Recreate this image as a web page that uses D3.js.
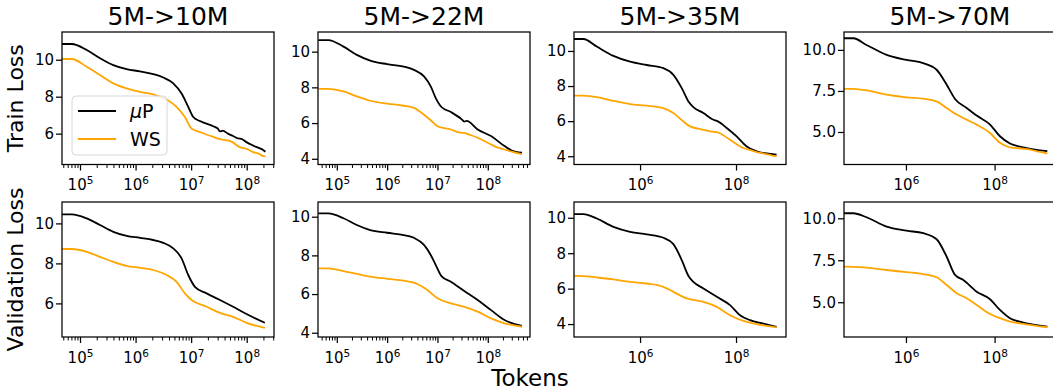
<!DOCTYPE html>
<html>
<head>
<meta charset="utf-8">
<script src="https://cdn.jsdelivr.net/npm/d3@7"></script>
<style>
body { margin: 0; background: #fff; }
svg text { font-family: "DejaVu Sans", sans-serif; fill: #000; }
</style>
</head>
<body>
<div id="graphic"></div>
<script>
// [tokens, loss]
var trainMuP10 = [[4.7e4,10.85],[7.1e4,10.85],[1.32e5,10.53],[2.29e5,10.08],[3.97e5,9.71],[6.9e5,9.49],[1.2e6,9.37],[2.08e6,9.22],[3.15e6,9.04],[4.77e6,8.72],[6.73e6,8.17],[8.87e6,7.45],[1.09e7,6.90],[1.44e7,6.68],[2.5e7,6.40],[3.0e7,6.28],[3.3e7,6.12],[3.7e7,6.16],[4.6e7,6.0],[5.7e7,5.87],[7.0e7,5.74],[8.0e7,5.72],[9.9e7,5.54],[1.3e8,5.36],[1.6e8,5.24],[1.98e8,5.12],[2.17e8,5.02]];
var trainWS10 = [[4.7e4,10.04],[7.1e4,10.04],[1.32e5,9.62],[2.29e5,9.17],[3.97e5,8.72],[6.9e5,8.45],[1.2e6,8.26],[2.08e6,8.12],[3.62e6,7.85],[5.47e6,7.45],[7.73e6,6.90],[1.02e7,6.27],[1.44e7,6.09],[2.5e7,5.82],[3.3e7,5.70],[4.35e7,5.64],[5.2e7,5.58],[7.5e7,5.27],[1.0e8,5.18],[1.31e8,5.0],[1.7e8,4.90],[1.9e8,4.80],[2.17e8,4.77]];
var trainMuP22 = [[4.3e4,10.65],[6.8e4,10.65],[1.36e5,10.28],[2.5e5,9.82],[4.6e5,9.50],[1.0e6,9.30],[2.15e6,9.16],[3.41e6,8.98],[5.4e6,8.61],[7.35e6,8.05],[9.25e6,7.40],[1.2e7,6.90],[1.85e7,6.62],[3.0e7,6.22],[3.41e7,6.08],[3.8e7,6.12],[6.3e7,5.64],[1.16e8,5.27],[2.15e8,4.71],[2.92e8,4.48],[4.78e8,4.34]];
var trainWS22 = [[4.3e4,7.92],[6.8e4,7.92],[1.36e5,7.77],[2.5e5,7.49],[4.6e5,7.25],[1.0e6,7.09],[2.15e6,6.97],[3.41e6,6.85],[5.4e6,6.47],[7.35e6,6.16],[1.0e7,5.82],[1.85e7,5.64],[2.8e7,5.46],[3.41e7,5.45],[4.0e7,5.38],[6.3e7,5.18],[1.16e8,4.80],[1.6e8,4.62],[2.15e8,4.52],[3.0e8,4.40],[4.78e8,4.25]];
var trainMuP35 = [[4.2e4,10.68],[6.6e4,10.68],[1.25e5,10.25],[2.78e5,9.72],[6.2e5,9.39],[1.38e6,9.20],[3.06e6,9.02],[4.95e6,8.64],[7.4e6,7.88],[1.02e7,7.12],[1.29e7,6.80],[2.09e7,6.46],[3.37e7,6.08],[4.0e7,6.02],[6.4e7,5.61],[1.03e8,5.13],[1.67e8,4.56],[2.7e8,4.28],[7.0e8,4.09]];
var trainWS35 = [[4.2e4,7.46],[6.6e4,7.45],[1.25e5,7.37],[2.78e5,7.16],[6.2e5,6.97],[1.38e6,6.88],[3.06e6,6.74],[4.95e6,6.46],[8.0e6,5.98],[1.1e7,5.70],[2.09e7,5.51],[3.1e7,5.40],[3.96e7,5.38],[7.5e7,4.94],[1.42e8,4.47],[2.0e8,4.35],[2.7e8,4.24],[4.0e8,4.14],[5.5e8,4.05],[7.0e8,4.0]];
var trainMuP70 = [[4.0e4,10.71],[6.5e4,10.71],[1.29e5,10.30],[3.66e5,9.70],[1.03e6,9.39],[2.46e6,9.19],[4.92e6,8.79],[8.3e6,7.88],[1.28e7,7.01],[2.34e7,6.46],[3.94e7,6.0],[7.9e7,5.45],[1.32e8,4.74],[2.22e8,4.30],[4.45e8,4.07],[1.55e9,3.83]];
var trainWS70 = [[4.0e4,7.63],[6.5e4,7.62],[1.29e5,7.53],[3.66e5,7.27],[1.03e6,7.11],[2.46e6,7.03],[4.92e6,6.86],[8.3e6,6.46],[1.39e7,6.06],[2.34e7,5.75],[3.94e7,5.45],[7.9e7,4.94],[1.32e8,4.34],[2.22e8,4.07],[4.45e8,3.98],[7.0e8,3.90],[1.0e9,3.80],[1.55e9,3.69]];

var valMuP10 = [[4.7e4,10.45],[7.1e4,10.45],[1.32e5,10.25],[2.29e5,9.92],[3.97e5,9.58],[6.9e5,9.38],[1.2e6,9.28],[2.08e6,9.17],[3.15e6,9.03],[4.77e6,8.75],[6.73e6,8.25],[8.87e6,7.42],[1.17e7,6.83],[1.9e7,6.50],[3.3e7,6.17],[5.7e7,5.83],[9.9e7,5.47],[2.12e8,5.03]];
var valWS10 = [[4.7e4,8.72],[7.1e4,8.72],[1.32e5,8.58],[2.29e5,8.33],[3.97e5,8.08],[6.9e5,7.88],[1.2e6,7.78],[2.08e6,7.67],[3.62e6,7.42],[5.47e6,7.08],[7.73e6,6.50],[1.02e7,6.17],[1.9e7,5.83],[3.3e7,5.53],[5.7e7,5.33],[9.9e7,5.03],[2.12e8,4.78]];
var valMuP22 = [[4.3e4,10.17],[6.8e4,10.17],[1.36e5,9.92],[2.5e5,9.57],[4.6e5,9.31],[1.0e6,9.17],[2.15e6,9.05],[3.41e6,8.91],[5.4e6,8.54],[7.35e6,8.02],[9.25e6,7.50],[1.2e7,6.93],[1.85e7,6.64],[3.41e7,6.16],[6.3e7,5.69],[1.16e8,5.17],[2.15e8,4.66],[4.78e8,4.35]];
var valWS22 = [[4.3e4,7.33],[6.8e4,7.33],[1.36e5,7.19],[2.5e5,7.04],[4.6e5,6.90],[1.0e6,6.79],[2.15e6,6.69],[3.97e6,6.52],[6.3e6,6.21],[1.0e7,5.78],[1.85e7,5.52],[3.41e7,5.34],[6.3e7,5.09],[1.16e8,4.74],[2.15e8,4.49],[4.78e8,4.31]];
var valMuP35 = [[4.2e4,10.21],[6.6e4,10.21],[1.25e5,9.96],[2.78e5,9.49],[6.2e5,9.21],[1.38e6,9.06],[3.06e6,8.87],[4.95e6,8.51],[7.4e6,7.61],[1.02e7,6.71],[1.29e7,6.38],[2.09e7,6.01],[3.96e7,5.54],[7.5e7,5.07],[1.21e8,4.50],[1.96e8,4.22],[3.71e8,4.03],[7.0e8,3.84]];
var valWS35 = [[4.2e4,6.72],[6.6e4,6.71],[1.25e5,6.63],[2.78e5,6.52],[6.2e5,6.38],[1.38e6,6.29],[3.06e6,6.10],[4.95e6,5.82],[9.4e6,5.45],[2.09e7,5.25],[3.96e7,4.97],[7.5e7,4.50],[1.42e8,4.18],[2.7e8,4.0],[7.0e8,3.81]];
var valMuP70 = [[4.0e4,10.30],[6.5e4,10.30],[1.29e5,10.06],[3.66e5,9.50],[1.03e6,9.26],[2.46e6,9.11],[4.92e6,8.75],[8.3e6,7.71],[1.28e7,6.63],[1.97e7,6.33],[3.94e7,5.63],[7.9e7,5.18],[1.32e8,4.54],[2.22e8,4.05],[4.45e8,3.79],[1.55e9,3.55]];
var valWS70 = [[4.0e4,7.12],[6.5e4,7.11],[1.29e5,7.06],[3.66e5,6.92],[1.03e6,6.79],[2.46e6,6.68],[4.92e6,6.49],[8.3e6,6.03],[1.39e7,5.54],[2.34e7,5.24],[3.94e7,4.84],[7.9e7,4.30],[1.32e8,4.05],[2.22e8,3.85],[4.45e8,3.71],[1.55e9,3.51]];

var titles = ["5M->10M", "5M->22M", "5M->35M", "5M->70M"];
var rowLabels = ["Train Loss", "Validation Loss"];
var seriesNames = ["\u03bcP", "WS"];
var colors = ["#000000", "#ffa500"];

var xDomains = [[4.74e4, 3.1e8], [4.23e4, 6.9e8], [4.2e4, 1.1e9], [4.0e4, 2.43e9]];
var xMajor = [[1e5, 1e6, 1e7, 1e8], [1e5, 1e6, 1e7, 1e8], [1e6, 1e8], [1e6, 1e8]];
var xMinorOn = [true, true, false, false];

var yDomainsTrain = [[4.33, 11.5], [3.68, 11.1], [3.53, 11.08], [3.02, 11.09]];
var yDomainsVal = [[4.32, 11.07], [3.78, 10.76], [3.27, 10.89], [2.93, 10.97]];
var yTicksTrain = [[6, 8, 10], [4, 6, 8, 10], [4, 6, 8, 10], [5, 7.5, 10]];
var yTicksVal = [[6, 8, 10], [4, 6, 8, 10], [4, 6, 8, 10], [5, 7.5, 10]];

var trainSeries = [[trainMuP10, trainWS10], [trainMuP22, trainWS22], [trainMuP35, trainWS35], [trainMuP70, trainWS70]];
var valSeries = [[valMuP10, valWS10], [valMuP22, valWS22], [valMuP35, valWS35], [valMuP70, valWS70]];

// layout
var width = 1053, height = 391;
var colLeft = [62, 318, 574, 844];
var panelW = 212;
var rowTop = [32, 202];
var rowH = [132.5, 135];

var svg = d3.select("#graphic").append("svg")
  .attr("width", width)
  .attr("height", height);

function supLabel(sel) {
  sel.each(function(d) {
    var t = d3.select(this);
    var e = Math.round(Math.log10(d));
    t.text(null);
    t.append("tspan").text("10");
    t.append("tspan").attr("dy", "-6").attr("font-size", "10.5px").text(e);
  });
}

function drawPanel(r, c) {
  var x0 = colLeft[c], y0 = rowTop[r], w = panelW, h = rowH[r];
  var yDom = r == 0 ? yDomainsTrain[c] : yDomainsVal[c];
  var yT = r == 0 ? yTicksTrain[c] : yTicksVal[c];
  var series = r == 0 ? trainSeries[c] : valSeries[c];

  var x = d3.scaleLog().domain(xDomains[c]).range([0, w]);
  var y = d3.scaleLinear().domain(yDom).range([h, 0]);

  var g = svg.append("g").attr("transform", "translate(" + x0 + "," + y0 + ")");

  var clipId = "clip" + r + c;
  g.append("clipPath").attr("id", clipId)
    .append("rect").attr("width", w).attr("height", h);

  var line = d3.line()
    .x(function(d) { return x(d[0]); })
    .y(function(d) { return y(d[1]); })
    .curve(d3.curveMonotoneX);

  series.forEach(function(s, i) {
    g.append("path")
      .datum(s)
      .attr("clip-path", "url(#" + clipId + ")")
      .attr("fill", "none")
      .attr("stroke", colors[i])
      .attr("stroke-width", 1.8)
      .attr("stroke-linejoin", "round")
      .attr("d", line);
  });

  // minor x ticks
  if (xMinorOn[c]) {
    var minors = x.ticks().filter(function(v) {
      return xMajor[c].indexOf(v) < 0 && v >= xDomains[c][0] && v <= xDomains[c][1];
    });
    var gm = g.append("g").attr("transform", "translate(0," + h + ")")
      .call(d3.axisBottom(x).tickValues(minors).tickSize(3.5).tickFormat(""));
    gm.select(".domain").remove();
    gm.selectAll("line").attr("stroke", "#000").attr("stroke-width", 1);
  }

  var gx = g.append("g").attr("transform", "translate(0," + h + ")")
    .call(d3.axisBottom(x).tickValues(xMajor[c]).tickSize(6).tickPadding(9));
  gx.select(".domain").remove();
  gx.selectAll("line").attr("stroke", "#000").attr("stroke-width", 1.25);
  gx.selectAll("text").attr("font-size", "15px").call(supLabel);

  var gy = g.append("g")
    .call(d3.axisLeft(y).tickValues(yT).tickSize(6).tickPadding(2)
      .tickFormat(c == 3 ? d3.format(".1f") : d3.format("d")));
  gy.select(".domain").remove();
  gy.selectAll("line").attr("stroke", "#000").attr("stroke-width", 1.25);
  gy.selectAll("text").attr("font-size", "15px");

  g.append("rect")
    .attr("width", w).attr("height", h)
    .attr("fill", "none")
    .attr("stroke", "#000")
    .attr("stroke-width", 1.25);

  if (r == 0) {
    svg.append("text")
      .attr("x", x0 + w / 2)
      .attr("y", 25)
      .attr("text-anchor", "middle")
      .attr("font-size", "25px")
      .text(titles[c]);
  }
  if (c == 0) {
    svg.append("text")
      .attr("transform", "translate(23," + (y0 + h / 2) + ") rotate(-90)")
      .attr("text-anchor", "middle")
      .attr("font-size", "22px")
      .text(rowLabels[r]);
  }
  if (r == 0 && c == 0) {
    var lg = g.append("g").attr("transform", "translate(10,64)");
    lg.append("rect")
      .attr("width", 95).attr("height", 59)
      .attr("rx", 4)
      .attr("fill", "#fff").attr("fill-opacity", 0.8)
      .attr("stroke", "#d6d6d6").attr("stroke-width", 1);
    seriesNames.forEach(function(n, i) {
      lg.append("line")
        .attr("x1", 6).attr("x2", 44)
        .attr("y1", 15 + i * 28).attr("y2", 15 + i * 28)
        .attr("stroke", colors[i]).attr("stroke-width", 1.8);
      var t = lg.append("text")
        .attr("x", 58).attr("y", 22 + i * 28)
        .attr("font-size", "19px");
      if (i == 0) {
        t.append("tspan").attr("font-style", "italic").text("\u03bc");
        t.append("tspan").text("P");
      } else {
        t.text(n);
      }
    });
  }
}

for (var r = 0; r < 2; r++) {
  for (var c = 0; c < 4; c++) {
    drawPanel(r, c);
  }
}

svg.append("text")
  .attr("x", 530)
  .attr("y", 386)
  .attr("text-anchor", "middle")
  .attr("font-size", "23px")
  .text("Tokens");
</script>
</body>
</html>
